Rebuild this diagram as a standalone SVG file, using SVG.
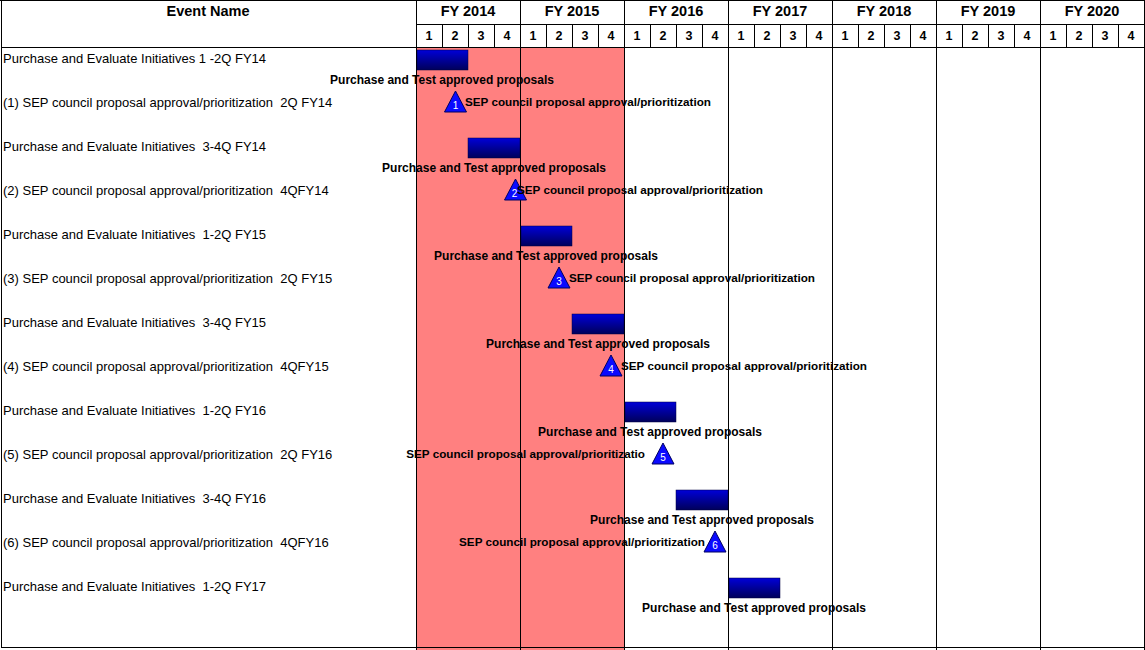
<svg xmlns="http://www.w3.org/2000/svg" width="1145" height="650" viewBox="0 0 1145 650">
<defs>
<linearGradient id="barGrad" x1="0" y1="0" x2="0" y2="1">
<stop offset="0" stop-color="#0000d8"/>
<stop offset="1" stop-color="#00005a"/>
</linearGradient>
<style>
.grid{stroke:#000;stroke-width:1;fill:none}
.hdr{font-family:"Liberation Sans",Arial,sans-serif;font-size:14.5px;font-weight:bold;fill:#000;text-anchor:middle}
.q{font-family:"Liberation Sans",Arial,sans-serif;font-size:12.5px;font-weight:bold;fill:#000;text-anchor:middle}
.ev{font-family:"Liberation Sans",Arial,sans-serif;font-size:13px;fill:#000;white-space:pre}
.lbl{font-family:"Liberation Sans",Arial,sans-serif;font-size:11.7px;font-weight:bold;fill:#000}
.blbl{font-family:"Liberation Sans",Arial,sans-serif;font-size:12px;font-weight:bold;fill:#000;text-anchor:middle}
.bar{fill:url(#barGrad);stroke:#000040;stroke-width:0.5}
.ms{fill:#0a0aff;stroke:#000060;stroke-width:1}
.num{font-family:"Liberation Sans",Arial,sans-serif;font-size:10px;fill:#fff;text-anchor:middle}
</style>
</defs>
<rect x="0" y="0" width="1145" height="650" fill="#fff"/>
<rect id="highlight" x="416" y="47" width="208" height="603" fill="#ff8080"/>
<g id="grid">
<line class="grid" x1="0" y1="0.5" x2="1145" y2="0.5"/>
<line class="grid" x1="1.5" y1="0" x2="1.5" y2="647"/>
<line class="grid" x1="416" y1="24.5" x2="1145" y2="24.5"/>
<line class="grid" x1="1" y1="47.5" x2="1145" y2="47.5"/>
<line class="grid" x1="1" y1="647.5" x2="1145" y2="647.5"/>
<path class="grid" d="M416.5 0V650M520.5 0V650M624.5 0V650M728.5 0V650M832.5 0V650M936.5 0V650M1040.5 0V650M1144.5 0V650"/>
<path class="grid" d="M442.5 24V47M468.5 24V47M494.5 24V47M546.5 24V47M572.5 24V47M598.5 24V47M650.5 24V47M676.5 24V47M702.5 24V47M754.5 24V47M780.5 24V47M806.5 24V47M858.5 24V47M884.5 24V47M910.5 24V47M962.5 24V47M988.5 24V47M1014.5 24V47M1066.5 24V47M1092.5 24V47M1118.5 24V47"/>
</g>
<g id="header">
<text class="hdr" x="208" y="16">Event Name</text>
<text class="hdr" x="468" y="16">FY 2014</text>
<text class="hdr" x="572" y="16">FY 2015</text>
<text class="hdr" x="676" y="16">FY 2016</text>
<text class="hdr" x="780" y="16">FY 2017</text>
<text class="hdr" x="884" y="16">FY 2018</text>
<text class="hdr" x="988" y="16">FY 2019</text>
<text class="hdr" x="1092" y="16">FY 2020</text>
<g id="quarters">
<text class="q" x="429" y="40">1</text><text class="q" x="455" y="40">2</text><text class="q" x="481" y="40">3</text><text class="q" x="507" y="40">4</text>
<text class="q" x="533" y="40">1</text><text class="q" x="559" y="40">2</text><text class="q" x="585" y="40">3</text><text class="q" x="611" y="40">4</text>
<text class="q" x="637" y="40">1</text><text class="q" x="663" y="40">2</text><text class="q" x="689" y="40">3</text><text class="q" x="715" y="40">4</text>
<text class="q" x="741" y="40">1</text><text class="q" x="767" y="40">2</text><text class="q" x="793" y="40">3</text><text class="q" x="819" y="40">4</text>
<text class="q" x="845" y="40">1</text><text class="q" x="871" y="40">2</text><text class="q" x="897" y="40">3</text><text class="q" x="923" y="40">4</text>
<text class="q" x="949" y="40">1</text><text class="q" x="975" y="40">2</text><text class="q" x="1001" y="40">3</text><text class="q" x="1027" y="40">4</text>
<text class="q" x="1053" y="40">1</text><text class="q" x="1079" y="40">2</text><text class="q" x="1105" y="40">3</text><text class="q" x="1131" y="40">4</text>
</g>
</g>
<g id="event-names">
<text class="ev" x="3" y="63" xml:space="preserve">Purchase and Evaluate Initiatives 1 -2Q FY14</text>
<text class="ev" x="3" y="107" xml:space="preserve">(1) SEP council proposal approval/prioritization  2Q FY14</text>
<text class="ev" x="3" y="151" xml:space="preserve">Purchase and Evaluate Initiatives  3-4Q FY14</text>
<text class="ev" x="3" y="195" xml:space="preserve">(2) SEP council proposal approval/prioritization  4QFY14</text>
<text class="ev" x="3" y="239" xml:space="preserve">Purchase and Evaluate Initiatives  1-2Q FY15</text>
<text class="ev" x="3" y="283" xml:space="preserve">(3) SEP council proposal approval/prioritization  2Q FY15</text>
<text class="ev" x="3" y="327" xml:space="preserve">Purchase and Evaluate Initiatives  3-4Q FY15</text>
<text class="ev" x="3" y="371" xml:space="preserve">(4) SEP council proposal approval/prioritization  4QFY15</text>
<text class="ev" x="3" y="415" xml:space="preserve">Purchase and Evaluate Initiatives  1-2Q FY16</text>
<text class="ev" x="3" y="459" xml:space="preserve">(5) SEP council proposal approval/prioritization  2Q FY16</text>
<text class="ev" x="3" y="503" xml:space="preserve">Purchase and Evaluate Initiatives  3-4Q FY16</text>
<text class="ev" x="3" y="547" xml:space="preserve">(6) SEP council proposal approval/prioritization  4QFY16</text>
<text class="ev" x="3" y="591" xml:space="preserve">Purchase and Evaluate Initiatives  1-2Q FY17</text>
</g>
<g id="task1"><rect class="bar" x="417" y="50" width="51" height="20"/><text class="blbl" x="442" y="84">Purchase and Test approved proposals</text></g>
<g id="task2"><rect class="bar" x="468" y="138" width="52" height="20"/><text class="blbl" x="494" y="172">Purchase and Test approved proposals</text></g>
<g id="task3"><rect class="bar" x="521" y="226" width="51" height="20"/><text class="blbl" x="546" y="260">Purchase and Test approved proposals</text></g>
<g id="task4"><rect class="bar" x="572" y="314" width="52" height="20"/><text class="blbl" x="598" y="348">Purchase and Test approved proposals</text></g>
<g id="task5"><rect class="bar" x="625" y="402" width="51" height="20"/><text class="blbl" x="650" y="436">Purchase and Test approved proposals</text></g>
<g id="task6"><rect class="bar" x="676" y="490" width="52" height="20"/><text class="blbl" x="702" y="524">Purchase and Test approved proposals</text></g>
<g id="task7"><rect class="bar" x="729" y="578" width="51" height="20"/><text class="blbl" x="754" y="612">Purchase and Test approved proposals</text></g>
<g id="milestone1"><polygon class="ms" points="455.5,91 444.5,112 466.5,112"/><text class="num" x="455.5" y="109">1</text><text class="lbl" x="465" y="106">SEP council proposal approval/prioritization</text></g>
<g id="milestone2"><polygon class="ms" points="515.5,179 504.5,200 526.5,200"/><text class="num" x="514.5" y="197">2</text><text class="lbl" x="517" y="194">SEP council proposal approval/prioritization</text></g>
<g id="milestone3"><polygon class="ms" points="559,267 548,288 570,288"/><text class="num" x="559" y="285">3</text><text class="lbl" x="569" y="282">SEP council proposal approval/prioritization</text></g>
<g id="milestone4"><polygon class="ms" points="611,355 600,376 622,376"/><text class="num" x="611" y="373">4</text><text class="lbl" x="621" y="370">SEP council proposal approval/prioritization</text></g>
<g id="milestone5"><polygon class="ms" points="663,443 652,464 674,464"/><text class="num" x="663" y="461">5</text><text class="lbl" x="645" y="458" text-anchor="end">SEP council proposal approval/prioritizatio</text></g>
<g id="milestone6"><polygon class="ms" points="715,531 704,552 726,552"/><text class="num" x="715" y="549">6</text><text class="lbl" x="705" y="546" text-anchor="end">SEP council proposal approval/prioritization</text></g>
</svg>
